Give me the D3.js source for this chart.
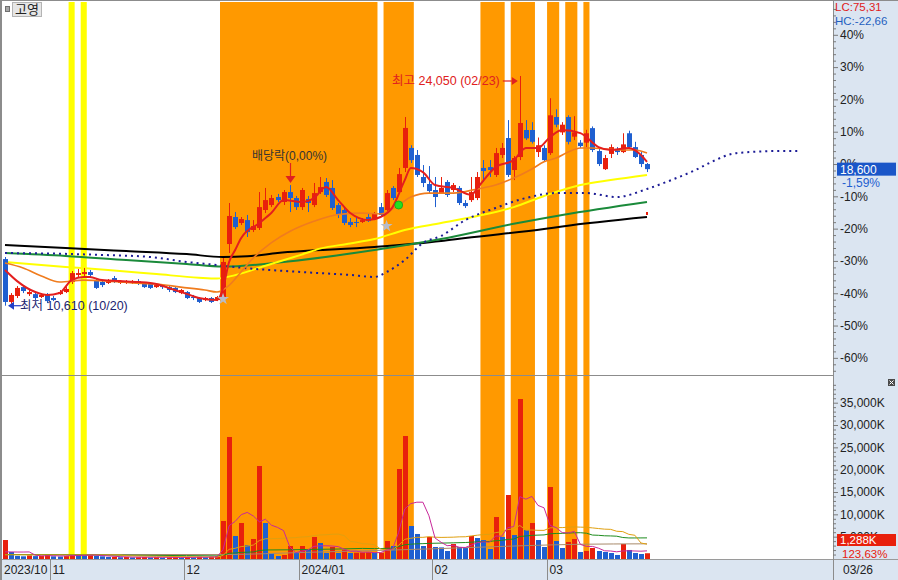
<!DOCTYPE html>
<html><head><meta charset="utf-8">
<script src="https://cdn.jsdelivr.net/npm/d3@7"></script>
<style>
body{margin:0;background:#fff;}
svg{display:block;font-family:"Liberation Sans","Noto Sans CJK KR",sans-serif;}
</style></head><body>
<svg id="c" width="898" height="580"></svg>
<script>
// ---------------- DATA ----------------
const dates = [
"2023-10-20","2023-10-23","2023-10-24","2023-10-25","2023-10-26","2023-10-27","2023-10-30","2023-10-31",
"2023-11-01","2023-11-02","2023-11-03","2023-11-06","2023-11-07","2023-11-08","2023-11-09","2023-11-10","2023-11-13","2023-11-14","2023-11-15","2023-11-16","2023-11-17","2023-11-20","2023-11-21","2023-11-22","2023-11-23","2023-11-24","2023-11-27","2023-11-28","2023-11-29","2023-11-30",
"2023-12-01","2023-12-04","2023-12-05","2023-12-06","2023-12-07","2023-12-08","2023-12-11","2023-12-12","2023-12-13","2023-12-14","2023-12-15","2023-12-18","2023-12-19","2023-12-20","2023-12-21","2023-12-22","2023-12-26","2023-12-27","2023-12-28",
"2024-01-02","2024-01-03","2024-01-04","2024-01-05","2024-01-08","2024-01-09","2024-01-10","2024-01-11","2024-01-12","2024-01-15","2024-01-16","2024-01-17","2024-01-18","2024-01-19","2024-01-22","2024-01-23","2024-01-24","2024-01-25","2024-01-26","2024-01-29","2024-01-30","2024-01-31",
"2024-02-01","2024-02-02","2024-02-05","2024-02-06","2024-02-07","2024-02-08","2024-02-13","2024-02-14","2024-02-15","2024-02-16","2024-02-19","2024-02-20","2024-02-21","2024-02-22","2024-02-23","2024-02-26","2024-02-27","2024-02-28","2024-02-29",
"2024-03-04","2024-03-05","2024-03-06","2024-03-07","2024-03-08","2024-03-11","2024-03-12","2024-03-13","2024-03-14","2024-03-15","2024-03-18","2024-03-19","2024-03-20","2024-03-21","2024-03-22","2024-03-25","2024-03-26"];

const opens = [13340,10830,11180,11700,11290,11290,11120,11240,11060,11290,11410,12000,12410,12460,12580,12110,12000,11940,12230,11940,11940,11940,12050,11940,11880,11700,11820,11700,11650,11350,11410,11120,11060,10940,11060,10940,
11060,14220,15800,15450,15620,15040,15160,16210,16500,16970,16680,17260,16910,16380,16850,16500,17260,17850,17500,16500,16210,15510,15510,15510,15800,15680,16380,16210,17500,17260,18670,19840,19430,18140,17730,
17380,17200,17850,17380,17500,16620,16790,16910,18670,18720,18260,19430,20420,18550,19310,20890,20890,19600,19840,
19540,21650,20750,21650,20500,20150,20150,21000,19660,18600,19490,19780,19600,20700,19890,19430,18900];
const highs = [13460,11350,11760,11820,11590,11410,11350,11350,11180,11530,11700,12640,12760,12820,12700,12230,12110,12170,12350,12110,12110,12110,12170,12000,11940,11880,11880,11820,11700,11590,11470,11240,11120,11120,11120,11180,
13400,16620,16090,15800,15920,15620,17260,17500,17090,17150,17380,17670,17030,17500,17030,17790,18140,18080,17960,16620,16380,15740,15800,15740,16030,16090,16620,17380,17610,18670,21650,20000,19720,18840,18780,
18140,18140,17960,17790,17610,16790,18140,18430,19130,19130,19840,20130,21470,19370,24050,21470,21350,20450,20000,
22750,22100,21350,21750,21700,20300,20900,21100,19780,19430,20050,19890,20700,20850,20200,19600,18960];
const lows = [10610,10710,11060,11350,11180,10940,11060,10770,10880,11240,11350,11880,12230,12350,12290,11590,11700,11880,11940,11880,11880,11880,11820,11650,11590,11650,11590,11410,11350,11290,11000,10940,10770,10880,10770,10880,
10940,13690,15100,15330,14630,14920,15040,16030,16380,16680,16500,16090,16210,16210,16090,16380,17150,16970,16210,15740,15330,15210,15210,15450,15510,15620,15800,16090,16790,17150,18430,18960,18140,17550,17200,
16380,17150,16970,17260,16500,16330,16680,16790,17850,18140,18140,19250,18140,17960,19130,20300,20100,19310,19020,
19430,21050,20600,20050,20300,19840,19890,19600,18780,18550,19250,19430,19540,19840,19250,18720,18430];
const closes = [10830,11240,11650,11470,11410,11060,11240,10880,10940,11410,11590,12520,12520,12580,12410,11650,11820,12050,12000,12050,12000,12050,11940,11700,11650,11820,11700,11530,11410,11530,11060,11060,10830,11060,10830,11120,
13170,15860,15210,15680,14920,15270,16380,16790,16910,16790,17260,16910,16380,17380,16620,17200,17550,17090,16330,15920,15450,15330,15450,15620,15560,15980,15920,17200,16910,18310,21010,19130,18260,17790,17320,
16970,17500,17090,17670,16620,16440,17260,18140,18490,18550,19540,19840,18260,19250,21300,20400,20200,20000,19130,
21750,21200,21200,20200,20750,19950,20700,19720,18900,19250,19890,19600,20050,19890,19310,18900,18600];

// volume in thousand shares
const volumes = [4250,1570,700,600,800,650,700,900,600,550,650,1100,900,800,850,700,600,450,500,400,450,350,400,450,350,400,300,350,400,300,450,350,500,400,500,600,
8510,27320,5150,8060,3130,4480,20820,8060,1340,670,900,2910,1340,2910,2020,4930,3580,1340,2690,1340,2020,1340,1400,1450,1500,1400,1450,4030,2910,20150,27540,7390,5600,2910,4930,2690,2600,1790,3360,2690,2460,5150,4700,4250,2240,9400,4930,14330,5370,35820,6490,8060,4250,2690,16120,4030,2460,3810,4480,1570,1790,2460,1790,1570,1340,900,3360,2020,1340,1120,1288];

// price moving averages, [day index, price]
const ma5 = [[0,12700],[2,12050],[5,11410],[7,11240],[9,11350],[11,12110],[13,12290],[14,12290],[16,12110],[19,12050],[22,12000],[25,11880],[27,11650],[30,11300],[32,11060],[35,10940],[36,11650],[37,13170],[38,13870],[39,14570],[42,15450],[44,16050],[46,16790],[49,16680],[51,16910],[53,17550],[55,16790],[57,16030],[60,15620],[62,15800],[64,16380],[66,17960],[67,18670],[69,18430],[71,17670],[74,17500],[77,17090],[78,17500],[81,18720],[84,19130],[86,19840],[88,19840],[90,20480],[92,20890],[95,20710],[98,19890],[100,19720],[103,19840],[105,19430],[106,19020]];
const ma10 = [[0,13110],[3,12820],[6,12350],[9,12000],[13,12110],[17,12050],[21,11940],[25,11880],[29,11700],[33,11530],[35,11410],[37,11800],[39,12600],[41,13400],[44,14300],[47,14950],[51,15550],[55,15950],[59,16030],[62,15980],[65,16500],[67,16970],[70,17200],[74,17200],[78,17440],[81,17670],[84,18080],[87,18610],[89,19030],[91,19250],[93,19600],[95,19840],[97,19840],[99,19780],[102,19720],[104,19720],[106,19540]];
const ma60 = [[0,13170],[10,12880],[17,12700],[25,12460],[32,12250],[35,12200],[38,12400],[43,12950],[49,13600],[52,13950],[57,14250],[61,14510],[66,15040],[72,15450],[78,15860],[84,16380],[89,17030],[95,17670],[100,17960],[106,18260]];
const ma120 = [[0,13690],[10,13520],[20,13280],[30,13050],[36,12900],[46,13170],[61,13870],[72,14510],[84,15400],[92,15920],[106,16680]];
const ma240 = [[0,14160],[10,13990],[20,13810],[30,13630],[36,13460],[40,13500],[45,13690],[61,14040],[72,14390],[76,14570],[89,15100],[92,15250],[106,15800]];
const leadLine = [[0,13690],[8,13660],[16,13580],[24,13460],[30,13170],[35,12990],[38,12870],[49,12580],[57,12410],[61,12290],[63,12580],[66,13280],[69,14280],[72,14690],[76,15620],[81,16330],[86,16910],[91,17200],[96,17200],[101,16970],[106,17440],[110,17960],[114,18550],[117,19080],[120,19490],[123,19600],[128,19660],[131,19660]];

// volume moving averages (thousand shares)
const vma5 = [1600,1580,1560,1560,1584,864,690,730,730,680,680,760,760,800,860,870,770,680,620,530,480,430,420,410,400,390,380,370,360,350,360,370,400,400,440,470,
2102,7466,8416,9928,10434,9628,8328,8910,7566,7074,6358,2776,1432,1746,2016,2822,2956,2956,2912,2776,2194,1746,1758,1510,1542,1418,1440,1966,2258,5988,11216,12404,12718,12718,9674,4704,3746,2984,3074,2626,2580,3090,3672,3850,3760,5148,5104,7030,7254,13970,13388,14014,11998,11462,7522,7030,5910,5822,6180,3270,2822,2822,2418,1836,1790,1612,1792,1838,1792,1748,1826];
const vma20 = [[0,950],[5,930],[10,920],[15,910],[19,914],[20,724],[25,605],[30,525],[35,425],[36,820],[37,2164],[38,2397],[39,2780],[40,2914],[41,3120],[42,4141],[43,4522],[44,4571],[45,4585],[46,4615],[47,4743],[48,4790],[49,4920],[50,4999],[51,5228],[52,5382],[53,5429],[54,5538],[55,5575],[56,5251],[57,3952],[58,3764],[59,3434],[60,3352],[61,3198],[62,2230],[63,2028],[64,2107],[65,3080],[66,4413],[67,4637],[68,4850],[69,4850],[70,4995],[71,4883],[72,4834],[73,4857],[74,4890],[75,4958],[76,4980],[77,5170],[78,5335],[79,5475],[80,5512],[81,5912],[82,6086],[83,6601],[84,6724],[85,7508],[86,6455],[87,6489],[88,6421],[89,6410],[90,6970],[91,7037],[92,7030],[93,7131],[94,7187],[95,7131],[96,7097],[97,6963],[98,6817],[99,6683],[100,6638],[101,6213],[102,6135],[103,5519],[104,5318],[105,3583],[106,3322]];
const vma60 = [[0,1000],[10,950],[20,850],[30,760],[35,700],[36,830],[37,1280],[38,1350],[39,1480],[40,1520],[41,1580],[42,1900],[43,2020],[47,2060],[51,2160],[55,2230],[59,2370],[61,2327],[62,2341],[63,2395],[64,2433],[65,2757],[66,3201],[67,3314],[68,3398],[69,3436],[70,3500],[72,3560],[74,3620],[76,3689],[77,3767],[78,3839],[79,3902],[80,3934],[81,4084],[82,4152],[83,4383],[84,4467],[85,5057],[86,5160],[87,5288],[88,5352],[89,5392],[90,5653],[91,5714],[92,5747],[93,5804],[94,5870],[95,5886],[96,5774],[97,5360],[98,5304],[99,5196],[100,5166],[101,5106],[102,4815],[103,4714],[104,4714],[105,4722],[106,4728]];
const vma120 = [[0,1000],[36,1000],[50,1500],[70,2250],[85,2950],[95,3300],[106,3400]];

const orangeBands = [["2023-12-11","2024-01-18"],["2024-01-22","2024-01-26"],["2024-02-15","2024-02-20"],["2024-02-22","2024-02-27"],["2024-03-04","2024-03-05"],["2024-03-07","2024-03-08"],["2024-03-12","2024-03-12"]];
const yellowBands = [["2023-11-06","2023-11-06"],["2023-11-08","2023-11-08"]];

const monthStarts = ["2023-10-20","2023-11-01","2023-12-01","2024-01-02","2024-02-01","2024-03-04"];
const monthLabels = ["2023/10","11","12","2024/01","02","03"];
const pctTicks = [40,30,20,10,0,-10,-20,-30,-40,-50,-60];
const volTicks = [5000,10000,15000,20000,25000,30000,35000];
const volTickLabels = ["5,000K","10,000K","15,000K","20,000K","25,000K","30,000K","35,000K"];
const basePrice = 18900;
const lastPrice = 18600, lastPct = "-1,59%";
const lastVol = "1,288K", lastVolPct = "123,63%";
const highNote = {date:"2024-02-23", price:24050, text:"최고 24,050 (02/23)"};
const lowNote = {date:"2023-10-20", price:10610, text:"최저 10,610 (10/20)"};
const divNote = {date:"2023-12-27", text:"배당락(0,00%)"};

// ---------------- LAYOUT ----------------
const RED = "#e8200c", BLUE = "#1f5fd0";
const svg = d3.select("#c");
const axisX = 833, mainTop = 2, mainBot = 374, volBot = 559;

const x = d3.scaleLinear().domain([0, dates.length - 1]).range([5, 647]);
const step = x(1) - x(0);
const y = d3.scaleLinear().domain([basePrice * 0.35, basePrice * 1.5]).range([374, 2.5]);
const yv = d3.scaleLinear().domain([0, 40000]).range([volBot, volBot - 8 * 22.33]);
const idx = d => dates.indexOf(d);

// backgrounds
svg.append("rect").attr("width", 898).attr("height", 580).attr("fill", "#fff");
svg.append("rect").attr("x", axisX).attr("y", 0).attr("width", 65).attr("height", 580).attr("fill", "#dbe5f1");
svg.append("rect").attr("x", 0).attr("y", volBot).attr("width", 898).attr("height", 21).attr("fill", "#dbe5f1");

const defs = svg.append("defs");
defs.append("clipPath").attr("id", "cm").append("rect").attr("x", 2).attr("y", mainTop).attr("width", axisX - 2).attr("height", mainBot - mainTop);
defs.append("clipPath").attr("id", "cv").append("rect").attr("x", 2).attr("y", 376).attr("width", axisX - 2).attr("height", volBot - 376);

// highlight bands
const bandG = svg.append("g");
function bands(list, color) {
  bandG.selectAll(null).data(list).enter().append("rect")
    .attr("x", d => x(idx(d[0])) - step / 2)
    .attr("width", d => x(idx(d[1])) - x(idx(d[0])) + step)
    .attr("y", mainTop).attr("height", volBot - mainTop)
    .attr("fill", color);
}
bands(orangeBands, "#ff9900");
bands(yellowBands, "#ffff00");

// ---------------- MAIN PANEL ----------------
const gm = svg.append("g").attr("clip-path", "url(#cm)");
const lineP = d3.line().x(d => x(d[0])).y(d => y(d[1])).curve(d3.curveMonotoneX);
gm.append("path").attr("d", lineP(ma240)).attr("fill", "none").attr("stroke", "#000").attr("stroke-width", 2);
gm.append("path").attr("d", lineP(ma120)).attr("fill", "none").attr("stroke", "#1a8a3a").attr("stroke-width", 2);
gm.append("path").attr("d", lineP(ma60)).attr("fill", "none").attr("stroke", "#ffff00").attr("stroke-width", 2);
gm.append("path").attr("d", lineP(leadLine)).attr("fill", "none").attr("stroke", "#1c1c96").attr("stroke-width", 2).attr("stroke-dasharray", "2,4");

const candle = gm.selectAll(".cd").data(dates).enter().append("g");
const col = i => closes[i] >= opens[i] ? RED : BLUE;
candle.append("line")
  .attr("x1", (d, i) => Math.round(x(i)) + 0.5).attr("x2", (d, i) => Math.round(x(i)) + 0.5)
  .attr("y1", (d, i) => y(highs[i])).attr("y2", (d, i) => y(lows[i]))
  .attr("stroke", (d, i) => col(i)).attr("stroke-width", 1);
candle.append("rect")
  .attr("x", (d, i) => Math.round(x(i)) - 2).attr("width", 5)
  .attr("y", (d, i) => y(Math.max(opens[i], closes[i])))
  .attr("height", (d, i) => Math.max(1, y(Math.min(opens[i], closes[i])) - y(Math.max(opens[i], closes[i]))))
  .attr("fill", (d, i) => col(i));

gm.append("path").attr("d", lineP(ma10)).attr("fill", "none").attr("stroke", "#f07c1e").attr("stroke-width", 1.6);
gm.append("path").attr("d", lineP(ma5)).attr("fill", "none").attr("stroke", "#e41e1e").attr("stroke-width", 2);

// markers
const star = d3.symbol().type(d3.symbolStar).size(45);
gm.append("path").attr("d", star()).attr("transform", `translate(${x(36)},${y(11000)})`).attr("fill", "#b8bcc8");
gm.append("path").attr("d", star()).attr("transform", `translate(${x(63)},${y(15270)})`).attr("fill", "#b8bcc8");
gm.append("circle").attr("cx", x(65)).attr("cy", y(16500)).attr("r", 4).attr("fill", "#22e022").attr("stroke", "#18a018").attr("stroke-width", 0.8);
gm.append("rect").attr("x", x(106) - 1).attr("y", y(15800) - 5).attr("width", 2).attr("height", 3).attr("fill", RED);

// annotations
const hx = x(idx(highNote.date)), hy = y(highNote.price) + 5;
svg.append("text").attr("x", hx - 20).attr("y", hy + 4).attr("text-anchor", "end").attr("font-size", 12.5).attr("fill", "#e02020").text(highNote.text);
svg.append("line").attr("x1", hx - 17).attr("x2", hx - 8).attr("y1", hy).attr("y2", hy).attr("stroke", "#e02020").attr("stroke-width", 1.2);
svg.append("path").attr("d", `M${hx - 8},${hy - 4}L${hx - 2},${hy}L${hx - 8},${hy + 4}Z`).attr("fill", "#e02020");

const lx = x(idx(lowNote.date)) + 3, ly = y(lowNote.price);
svg.append("path").attr("d", `M${lx},${ly}L${lx + 6},${ly - 4}L${lx + 6},${ly + 4}Z`).attr("fill", "#2040c8");
svg.append("line").attr("x1", lx + 6).attr("x2", lx + 13).attr("y1", ly).attr("y2", ly).attr("stroke", "#2040c8").attr("stroke-width", 1.2);
svg.append("text").attr("x", lx + 12).attr("y", ly + 4.5).attr("font-size", 12.5).attr("fill", "#1c2470").text(lowNote.text);

const dx = Math.round(x(idx(divNote.date))) + 0.5;
svg.append("text").attr("x", dx - 1).attr("y", 160).attr("text-anchor", "middle").attr("font-size", 12).attr("fill", "#333").text(divNote.text);
svg.append("line").attr("x1", dx).attr("x2", dx).attr("y1", 163).attr("y2", 177).attr("stroke", "#e02020").attr("stroke-width", 1.2);
svg.append("path").attr("d", `M${dx - 5},${176}L${dx + 5},${176}L${dx},${183}Z`).attr("fill", "#e02020");

// ---------------- VOLUME PANEL ----------------
const gv = svg.append("g").attr("clip-path", "url(#cv)");
gv.selectAll(".vb").data(volumes).enter().append("rect")
  .attr("x", (d, i) => Math.round(x(i)) - 2).attr("width", 5)
  .attr("y", d => yv(d)).attr("height", d => volBot - yv(d))
  .attr("fill", (d, i) => (i === 0 || d > volumes[i - 1]) ? RED : BLUE);
const lineV = d3.line().x(d => x(d[0])).y(d => yv(d[1]));
gv.append("path").attr("d", lineV.curve(d3.curveMonotoneX)(vma120)).attr("fill", "none").attr("stroke", "#a88a6a").attr("stroke-width", 1);
gv.append("path").attr("d", lineV.curve(d3.curveLinear)(vma60)).attr("fill", "none").attr("stroke", "#1e8c1e").attr("stroke-width", 1);
gv.append("path").attr("d", lineV.curve(d3.curveLinear)(vma20)).attr("fill", "none").attr("stroke", "#e0a010").attr("stroke-width", 1);
gv.append("path").attr("d", lineV.curve(d3.curveLinear)(vma5.map((v, i) => [i, v]))).attr("fill", "none").attr("stroke", "#c8289a").attr("stroke-width", 1);

// ---------------- FRAME ----------------
svg.append("line").attr("x1", 0).attr("x2", axisX).attr("y1", 375.5).attr("y2", 375.5).attr("stroke", "#8c8c8c");
svg.append("line").attr("x1", 0).attr("x2", 898).attr("y1", volBot + 0.5).attr("y2", volBot + 0.5).attr("stroke", "#9a9a9a");
svg.append("line").attr("x1", 0).attr("x2", 898).attr("y1", 0.5).attr("y2", 0.5).attr("stroke", "#8c8c8c");
svg.append("line").attr("x1", 1).attr("x2", 1).attr("y1", 0).attr("y2", 580).attr("stroke", "#8c8c8c").attr("stroke-width", 2);
svg.append("line").attr("x1", axisX + 0.5).attr("x2", axisX + 0.5).attr("y1", 0).attr("y2", 580).attr("stroke", "#8c8c8c");

// ---------------- AXES ----------------
const minorPct = d3.range(-64, 50, 2).filter(p => p % 10 !== 0);
const axMinor = svg.append("g").attr("transform", `translate(${axisX},0)`)
  .call(d3.axisRight(y).tickValues(minorPct.map(p => basePrice * (1 + p / 100))).tickSize(3).tickFormat(""));
const axP = svg.append("g").attr("transform", `translate(${axisX},0)`)
  .call(d3.axisRight(y).tickValues(pctTicks.map(p => basePrice * (1 + p / 100))).tickSize(5).tickPadding(2)
    .tickFormat((d, i) => pctTicks[i] + "%"));
const minorVol = d3.range(1000, 40000, 1000).filter(v => v % 5000 !== 0);
const axVm = svg.append("g").attr("transform", `translate(${axisX},0)`)
  .call(d3.axisRight(yv).tickValues(minorVol).tickSize(3).tickFormat(""));
const axV = svg.append("g").attr("transform", `translate(${axisX},0)`)
  .call(d3.axisRight(yv).tickValues(volTicks).tickSize(5).tickPadding(2).tickFormat((d, i) => volTickLabels[i]));
[axMinor, axP, axVm, axV].forEach(a => {
  a.select(".domain").remove();
  a.selectAll("line").attr("stroke", "#7a7a7a");
  a.selectAll("text").attr("font-size", 12).attr("fill", "#222").attr("font-family", "Liberation Sans, sans-serif");
});

// month labels
const mg = svg.append("g");
monthStarts.forEach((d, k) => {
  const mx = Math.round(x(idx(d)) - step / 2) + 0.5;
  if (k > 0) mg.append("line").attr("x1", mx).attr("x2", mx).attr("y1", volBot).attr("y2", 580).attr("stroke", "#8c8c8c");
  mg.append("text").attr("x", k === 0 ? 4 : mx + 2).attr("y", 574).attr("font-size", 12).attr("fill", "#222").text(monthLabels[k]);
});
svg.append("text").attr("x", 843).attr("y", 574).attr("font-size", 12).attr("fill", "#222").text("03/26");

// header labels
svg.append("rect").attr("x", 5.5).attr("y", 6.5).attr("width", 4).attr("height", 5).attr("fill", "#a8a8a8").attr("stroke", "#707070");
svg.append("rect").attr("x", 12.5).attr("y", 2.5).attr("width", 29).attr("height", 14).attr("fill", "#e6e6e6").attr("stroke", "#b4b4b4");
svg.append("text").attr("x", 27).attr("y", 14).attr("text-anchor", "middle").attr("font-size", 13).attr("fill", "#222").attr("font-family", "Noto Sans CJK KR").text("고영");
svg.append("text").attr("x", 835).attr("y", 11).attr("font-size", 11.5).attr("fill", "#e02020").text("LC:75,31");
svg.append("text").attr("x", 835).attr("y", 24.5).attr("font-size", 11.5).attr("fill", "#1f5fbf").text("HC:-22,66");

// last price box
const py = y(lastPrice);
svg.append("rect").attr("x", 837).attr("y", py - 6.5).attr("width", 59).attr("height", 13).attr("fill", "#1a56c8");
svg.append("text").attr("x", 840).attr("y", py + 4.5).attr("font-size", 12).attr("fill", "#fff").text(lastPrice.toLocaleString("en-US"));
svg.append("text").attr("x", 842).attr("y", py + 18).attr("font-size", 12).attr("fill", "#1f5fd0").text(lastPct);

// last volume box
svg.append("rect").attr("x", 837).attr("y", 534).attr("width", 59).attr("height", 12).attr("fill", "#e8200c");
svg.append("text").attr("x", 840).attr("y", 544).attr("font-size", 11.5).attr("fill", "#fff").text(lastVol);
svg.append("text").attr("x", 842).attr("y", 557.5).attr("font-size", 11.5).attr("fill", "#e8200c").text(lastVolPct);

// small close icon
svg.append("rect").attr("x", 888).attr("y", 379).attr("width", 7).attr("height", 7).attr("fill", "#4a4a4a");
svg.append("path").attr("d", "M889.5,380.5L893.5,384.5M893.5,380.5L889.5,384.5").attr("stroke", "#fff").attr("stroke-width", 1);
</script>
</body></html>
